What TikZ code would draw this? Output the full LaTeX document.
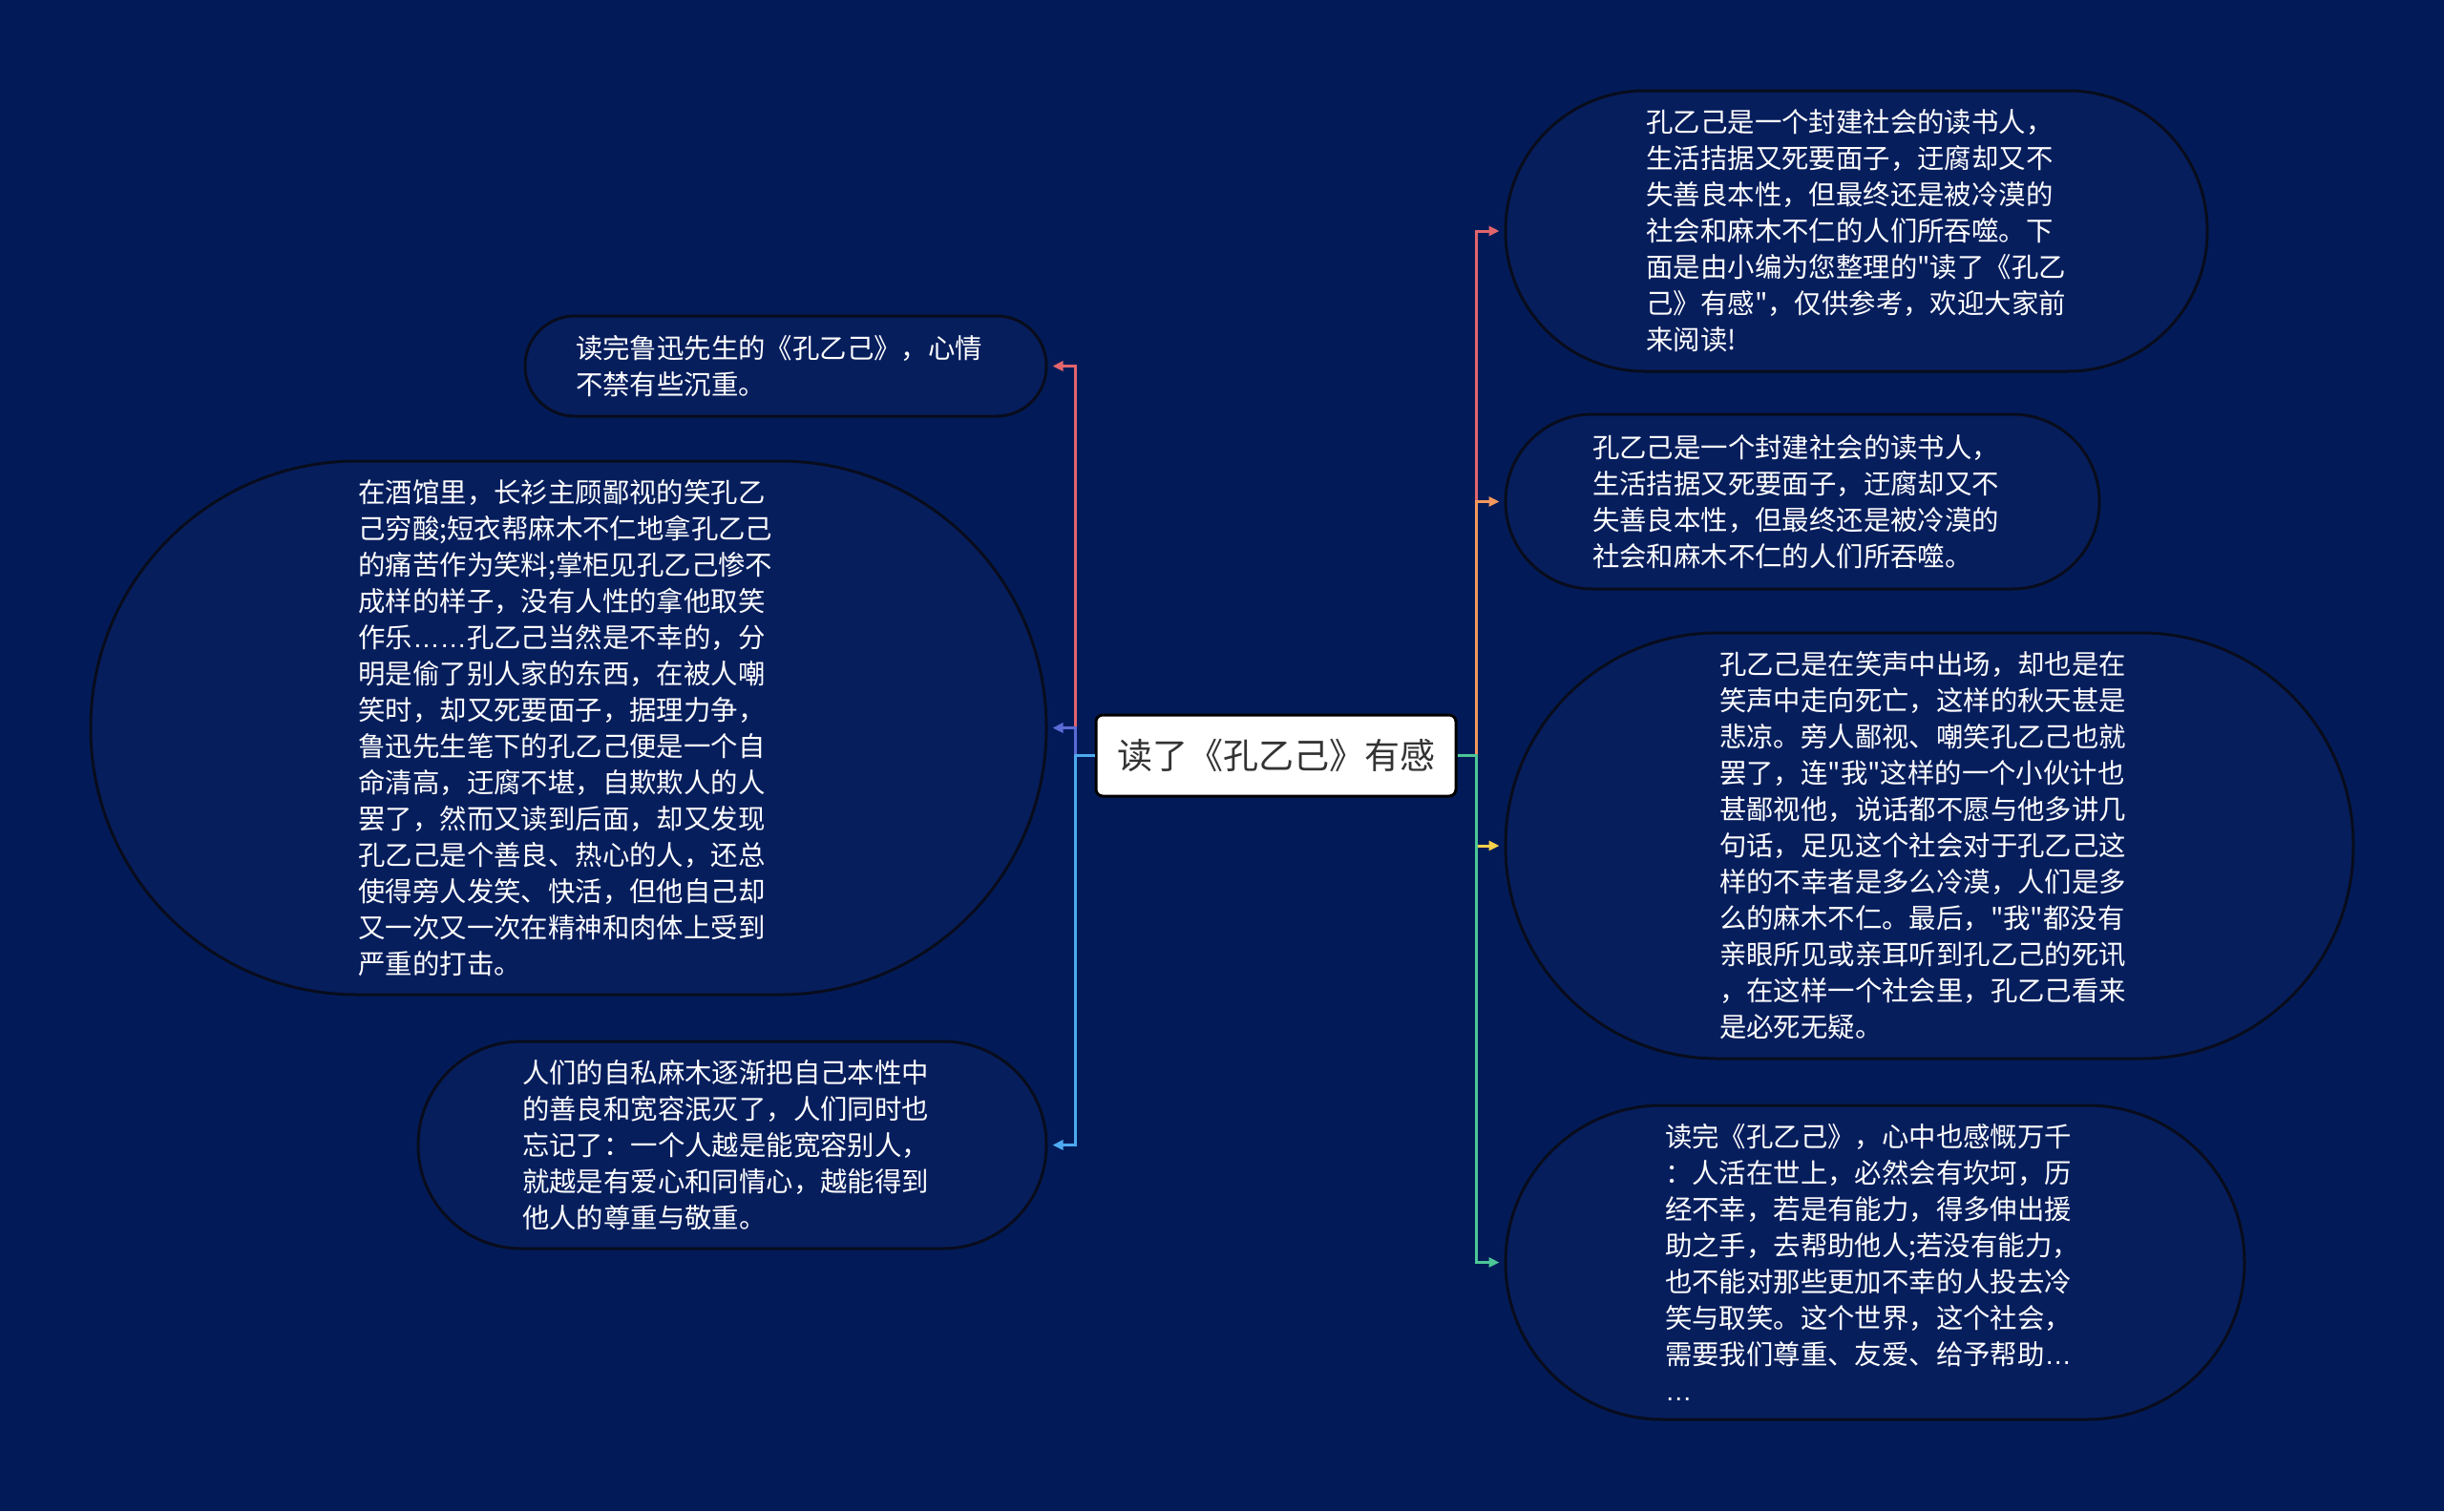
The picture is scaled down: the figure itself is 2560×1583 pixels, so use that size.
\documentclass[tikz,border=0pt]{standalone}
\usepackage{fontspec}
\newfontfamily\cjk[Ligatures=TeXOff]{Noto Sans CJK SC}
\newfontfamily\latinf{Liberation Sans}
\usetikzlibrary{arrows.meta}
\definecolor{bgc}{RGB}{2,27,88}
\definecolor{nodefill}{RGB}{7,30,93}
\definecolor{nodeborder}{RGB}{8,12,28}
\definecolor{cred}{RGB}{226,100,108}
\definecolor{cpurple}{RGB}{92,106,214}
\definecolor{cblue}{RGB}{78,170,240}
\definecolor{corange}{RGB}{242,152,94}
\definecolor{cyellow}{RGB}{248,208,74}
\definecolor{cgreen}{RGB}{76,198,150}
\definecolor{ctext}{RGB}{51,51,51}
\begin{document}
\begin{tikzpicture}[x=1pt,y=-1pt,
  box/.style={draw=nodeborder, line width=3pt, fill=nodefill, text=white,
    align=left, text width=440pt, inner sep=0pt, font=\cjk\fontsize{28.4pt}{38pt}\selectfont},
  centrebox/.style={draw=black, line width=3pt, fill=white, text=ctext,
    rounded corners=7pt, inner sep=0pt, minimum width=377pt, minimum height=85pt,
    font=\cjk\fontsize{37pt}{44pt}\selectfont},
  br/.style={line width=3pt, -{Triangle[length=11pt,width=10pt]}, shorten >=5pt}
]
\fill[bgc] (0,0) rectangle (2560,1583);

\node[centrebox] (C) at (1336.5,791.5) {读了《孔乙己》有感};

\node[box, minimum width=546pt, minimum height=105pt, rounded corners=52pt] (L1) at (823,383.5)
{读完鲁迅先生的《孔乙己》，心情\\不禁有些沉重。};

\node[box, minimum width=1001pt, minimum height=559pt, rounded corners=279pt] (L2) at (595.5,762.5)
{在酒馆里，长衫主顾鄙视的笑孔乙\\
己穷酸;短衣帮麻木不仁地拿孔乙己\\
的痛苦作为笑料;掌柜见孔乙己惨不\\
成样的样子，没有人性的拿他取笑\\
作乐{\latinf ……}孔乙己当然是不幸的，分\\
明是偷了别人家的东西，在被人嘲\\
笑时，却又死要面子，据理力争，\\
鲁迅先生笔下的孔乙己便是一个自\\
命清高，迂腐不堪，自欺欺人的人\\
罢了，然而又读到后面，却又发现\\
孔乙己是个善良、热心的人，还总\\
使得旁人发笑、快活，但他自己却\\
又一次又一次在精神和肉体上受到\\
严重的打击。};

\node[box, minimum width=658pt, minimum height=217pt, rounded corners=108pt] (L3) at (767,1199.5)
{人们的自私麻木逐渐把自己本性中\\
的善良和宽容泯灭了，人们同时也\\
忘记了：一个人越是能宽容别人，\\
就越是有爱心和同情心，越能得到\\
他人的尊重与敬重。};

\node[box, minimum width=735pt, minimum height=294pt, rounded corners=146pt] (R1) at (1944.5,242)
{孔乙己是一个封建社会的读书人，\\
生活拮据又死要面子，迂腐却又不\\
失善良本性，但最终还是被冷漠的\\
社会和麻木不仁的人们所吞噬。下\\
面是由小编为您整理的"读了《孔乙\\
己》有感"，仅供参考，欢迎大家前\\
来阅读!};

\node[box, minimum width=622pt, minimum height=183pt, rounded corners=91pt] (R2) at (1888,525.5)
{孔乙己是一个封建社会的读书人，\\
生活拮据又死要面子，迂腐却又不\\
失善良本性，但最终还是被冷漠的\\
社会和麻木不仁的人们所吞噬。};

\node[box, minimum width=888pt, minimum height=446pt, rounded corners=222pt] (R3) at (2021,886)
{孔乙己是在笑声中出场，却也是在\\
笑声中走向死亡，这样的秋天甚是\\
悲凉。旁人鄙视、嘲笑孔乙己也就\\
罢了，连"我"这样的一个小伙计也\\
甚鄙视他，说话都不愿与他多讲几\\
句话，足见这个社会对于孔乙己这\\
样的不幸者是多么冷漠，人们是多\\
么的麻木不仁。最后，"我"都没有\\
亲眼所见或亲耳听到孔乙己的死讯\\
，在这样一个社会里，孔乙己看来\\
是必死无疑。};

\node[box, minimum width=774pt, minimum height=329pt, rounded corners=164pt] (R4) at (1964,1322.5)
{读完《孔乙己》，心中也感慨万千\\
：人活在世上，必然会有坎坷，历\\
经不幸，若是有能力，得多伸出援\\
助之手，去帮助他人;若没有能力，\\
也不能对那些更加不幸的人投去冷\\
笑与取笑。这个世界，这个社会，\\
需要我们尊重、友爱、给予帮助{\latinf …}\\
{\latinf …}};

\draw[br, cred] (C.west) -- ++(-20,0) |- (L1.east);
\draw[br, cpurple] (C.west) -- ++(-20,0) |- (L2.east);
\draw[br, cblue] (C.west) -- ++(-20,0) |- (L3.east);

\draw[br, cred] (C.east) -- ++(20,0) |- (R1.west);
\draw[br, corange] (C.east) -- ++(20,0) |- (R2.west);
\draw[br, cyellow] (C.east) -- ++(20,0) |- (R3.west);
\draw[br, cgreen] (C.east) -- ++(20,0) |- (R4.west);
\end{tikzpicture}
\end{document}
